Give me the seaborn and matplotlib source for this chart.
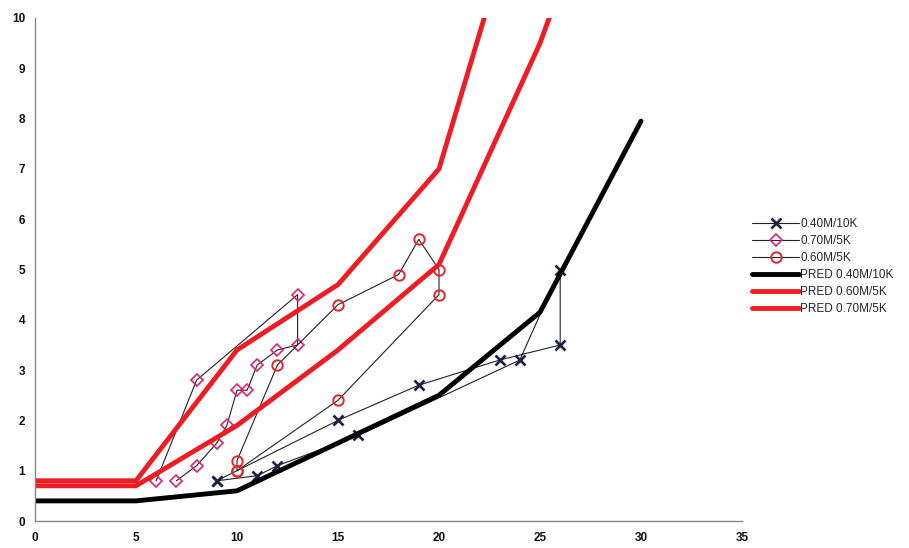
import matplotlib
matplotlib.use("Agg")
import matplotlib.pyplot as plt
import seaborn as sns
import pandas as pd

# Measured series (points listed in the order they were recorded)
m40_x = [9, 11, 12, 16, 24, 26, 26, 23, 19, 15, 9]
m40_y = [0.8, 0.9, 1.1, 1.7, 3.2, 5.0, 3.5, 3.2, 2.7, 2.0, 0.8]

m70_x = [7, 8, 9, 9.5, 10, 10.5, 11, 12, 13, 13, 8, 6]
m70_y = [0.8, 1.1, 1.55, 1.9, 2.6, 2.6, 3.1, 3.4, 3.5, 4.5, 2.8, 0.8]

m60_x = [10, 10, 12, 15, 18, 19, 20, 20, 15, 10]
m60_y = [1.0, 1.2, 3.1, 4.3, 4.9, 5.6, 5.0, 4.5, 2.4, 1.0]

# Predicted curves
pred_x = [0, 5, 10, 15, 20, 25, 30]
pred40_y = [0.4, 0.4, 0.6, 1.55, 2.5, 4.15, 7.95]
pred60_y = [0.7, 0.7, 1.9, 3.4, 5.1, 9.5, 15.0]
pred70_y = [0.8, 0.8, 3.4, 4.7, 7.0, 13.7, 20.5]

x_ticks = [0, 5, 10, 15, 20, 25, 30, 35]
y_ticks = list(range(0, 11))

sns.set_style("white")
plt.rcParams["font.family"] = ["Liberation Sans", "DejaVu Sans"]

fig = plt.figure(figsize=(9.09, 5.48), dpi=100)
ax = fig.add_axes([35 / 909, 1 - 521 / 548, (742 - 35) / 909, (521 - 18) / 548])

thin = dict(color="#222222", linewidth=0.8, sort=False, estimator=None)

sns.lineplot(data=pd.DataFrame({"x": m40_x, "y": m40_y}), x="x", y="y", ax=ax,
             marker="x", markersize=7.5, markeredgewidth=1.9,
             markeredgecolor="#1c2145", label="0.40M/10K", **thin)
sns.lineplot(data=pd.DataFrame({"x": m70_x, "y": m70_y}), x="x", y="y", ax=ax,
             marker="D", markersize=5.8, markeredgewidth=1.2,
             markerfacecolor="none", markeredgecolor="#d9266e",
             label="0.70M/5K", **thin)
sns.lineplot(data=pd.DataFrame({"x": m60_x, "y": m60_y}), x="x", y="y", ax=ax,
             marker="o", markersize=7.5, markeredgewidth=1.4,
             markerfacecolor="none", markeredgecolor="#e3262d",
             label="0.60M/5K", **thin)

sns.lineplot(x=pred_x, y=pred40_y, ax=ax, color="#000000", linewidth=3.5,
             sort=False, estimator=None, label="PRED 0.40M/10K")
sns.lineplot(x=pred_x, y=pred60_y, ax=ax, color="#f01c24", linewidth=3.5,
             sort=False, estimator=None, label="PRED 0.60M/5K")
sns.lineplot(x=pred_x, y=pred70_y, ax=ax, color="#f01c24", linewidth=3.5,
             sort=False, estimator=None, label="PRED 0.70M/5K")

ax.set_xlim(0, 35)
ax.set_ylim(0, 10)
ax.set_xticks(x_ticks)
ax.set_yticks(y_ticks)
ax.set_xlabel("")
ax.set_ylabel("")
for side in ("top", "right"):
    ax.spines[side].set_visible(False)
for side in ("left", "bottom"):
    ax.spines[side].set_color("#888888")
    ax.spines[side].set_linewidth(1.0)
ax.tick_params(axis="both", which="major", length=3, width=0.8, color="#888888",
               labelsize=8.5, labelcolor="#111111", pad=4)
ax.tick_params(axis="x", pad=5)
for lab in ax.get_xticklabels() + ax.get_yticklabels():
    lab.set_fontweight("bold")

leg = ax.legend(loc="upper left", bbox_to_anchor=(752 / 909, 1 - 218 / 548),
                bbox_transform=fig.transFigure, frameon=False, fontsize=8.5,
                handlelength=4.0, handletextpad=0.1, labelspacing=0.42,
                borderpad=0, borderaxespad=0)

fig.savefig("out.png", dpi=100)
